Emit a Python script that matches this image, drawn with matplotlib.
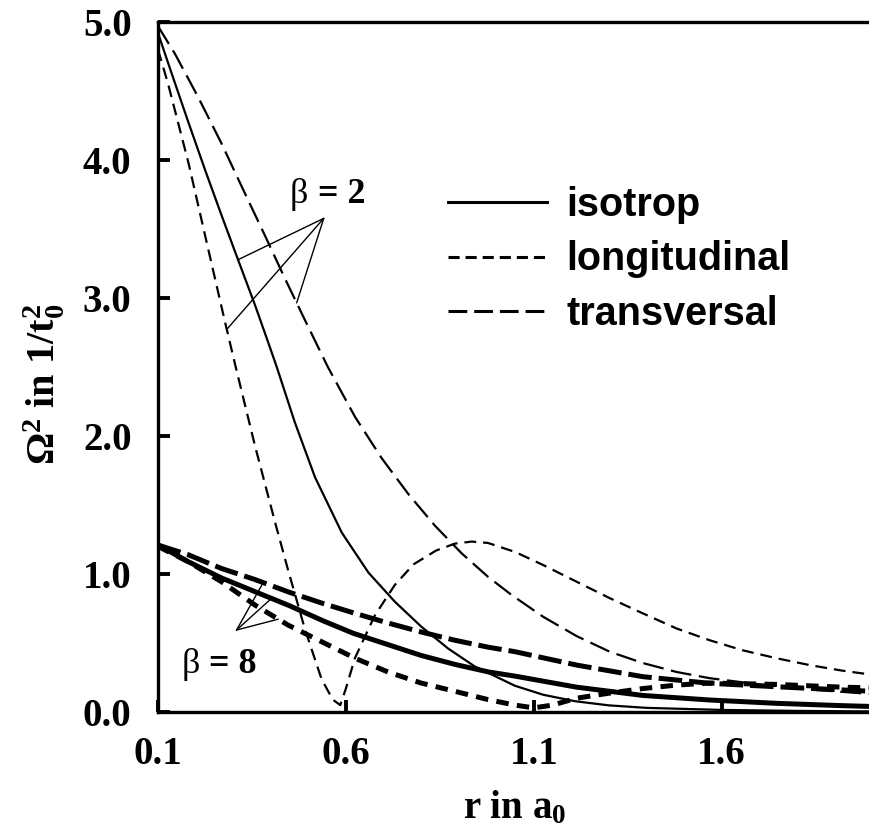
import numpy as np
import matplotlib
matplotlib.use('Agg')
import matplotlib.pyplot as plt
from matplotlib.lines import Line2D

plt.rcParams['lines.scale_dashes'] = False
plt.rcParams['mathtext.fontset'] = 'custom'
plt.rcParams['mathtext.rm'] = 'Liberation Serif:bold'
plt.rcParams['mathtext.bf'] = 'Liberation Serif:bold'
plt.rcParams['mathtext.it'] = 'Liberation Serif:bold'
plt.rcParams['mathtext.default'] = 'bf'

# beta = 2 (duenne Linien)
x_iso2 = [0.1, 0.136, 0.18, 0.225, 0.269, 0.314, 0.358, 0.393, 0.416, 0.464, 0.518, 0.589,
          0.66, 0.73, 0.80, 0.872, 0.943, 1.05, 1.125, 1.21, 1.3, 1.4, 1.6, 1.8, 2.0]
y_iso2 = [4.92, 4.63, 4.28, 3.93, 3.60, 3.27, 2.95, 2.68, 2.50, 2.10, 1.70, 1.30,
          1.01, 0.80, 0.62, 0.46, 0.33, 0.19, 0.125, 0.078, 0.048, 0.03, 0.015, 0.008, 0.004]

x_lon2 = [0.1, 0.127, 0.181, 0.234, 0.278, 0.305, 0.358, 0.411, 0.446, 0.491, 0.535, 0.565,
          0.585, 0.60, 0.624, 0.677, 0.73, 0.78, 0.84, 0.89, 0.935, 0.978, 1.05, 1.125, 1.214,
          1.302, 1.39, 1.48, 1.568, 1.656, 1.745, 1.834, 1.92, 2.0]
y_lon2 = [4.80, 4.55, 3.98, 3.35, 2.83, 2.52, 1.93, 1.38, 1.03, 0.60, 0.24, 0.09,
          0.05, 0.17, 0.39, 0.70, 0.92, 1.07, 1.17, 1.22, 1.235, 1.225, 1.16, 1.065, 0.944,
          0.825, 0.715, 0.605, 0.52, 0.447, 0.39, 0.34, 0.30, 0.27]

x_tra2 = [0.1, 0.145, 0.206, 0.269, 0.331, 0.385, 0.438, 0.491, 0.552, 0.624, 0.695, 0.766,
          0.837, 0.908, 0.978, 1.04, 1.125, 1.214, 1.302, 1.39, 1.48, 1.568, 1.7, 1.85, 2.0]
y_tra2 = [4.97, 4.77, 4.46, 4.12, 3.76, 3.45, 3.14, 2.84, 2.50, 2.14, 1.84, 1.58,
          1.35, 1.15, 0.98, 0.85, 0.69, 0.55, 0.437, 0.355, 0.29, 0.245, 0.20, 0.16, 0.13]

# beta = 8 (dicke Linien)
x_iso8 = [0.1, 0.18, 0.27, 0.36, 0.45, 0.54, 0.62, 0.71, 0.80, 0.89, 0.98, 1.05,
          1.214, 1.39, 1.568, 1.745, 1.92, 2.0]
y_iso8 = [1.21, 1.09, 0.97, 0.87, 0.77, 0.66, 0.57, 0.49, 0.41, 0.345, 0.29, 0.26,
          0.18, 0.12, 0.087, 0.063, 0.046, 0.04]

x_tra8 = [0.1, 0.18, 0.269, 0.358, 0.447, 0.535, 0.624, 0.712, 0.80, 0.89, 0.978, 1.05,
          1.214, 1.39, 1.568, 1.745, 1.92, 2.0]
y_tra8 = [1.21, 1.14, 1.04, 0.96, 0.87, 0.79, 0.715, 0.645, 0.58, 0.52, 0.47, 0.437,
          0.34, 0.256, 0.208, 0.183, 0.16, 0.15]

x_lon8 = [0.1, 0.18, 0.269, 0.358, 0.446, 0.535, 0.624, 0.712, 0.80, 0.89, 0.978, 1.05,
          1.10, 1.15, 1.214, 1.302, 1.39, 1.48, 1.568, 1.745, 1.92, 2.0]
y_lon8 = [1.20, 1.09, 0.944, 0.775, 0.63, 0.51, 0.39, 0.29, 0.21, 0.15, 0.09, 0.05,
          0.03, 0.05, 0.10, 0.137, 0.17, 0.195, 0.21, 0.20, 0.18, 0.175]

xticks = [0.1, 0.6, 1.1, 1.6]
yticks = [0.0, 1.0, 2.0, 3.0, 4.0, 5.0]

# Strichmuster (in Punkt)
d_lon_thin = (0, (8.5, 5))
d_tra_thin = (0, (15, 5.5))
d_lon_thick = (0, (9, 6))
d_tra_thick = (0, (17, 5))

fig = plt.figure(figsize=(8.7, 8.32), dpi=100)
ax = fig.add_axes([158/870, 120/832, 714/870, 690/832])

lw1, lw2 = 1.6, 3.6
ax.plot(x_iso2, y_iso2, 'k-', lw=lw1)
ax.plot(x_lon2, y_lon2, 'k', lw=lw1, linestyle=d_lon_thin)
ax.plot(x_tra2, y_tra2, 'k', lw=lw1, linestyle=d_tra_thin)
ax.plot(x_iso8, y_iso8, 'k-', lw=lw2)
ax.plot(x_lon8, y_lon8, 'k', lw=lw2, linestyle=d_lon_thick)
ax.plot(x_tra8, y_tra8, 'k', lw=lw2, linestyle=d_tra_thick)

ax.set_xlim(0.1, 2.0)
ax.set_ylim(0.0, 5.0)
ax.set_xticks(xticks)
ax.set_xticklabels([f'{v:.1f}' for v in xticks])
ax.set_yticks(yticks)
ax.set_yticklabels([f'{v:.1f}' for v in yticks])

for s in ax.spines.values():
    s.set_linewidth(2.4)
ax.tick_params(direction='in', length=8.5, width=2.8, labelsize=28)
ax.tick_params(axis='y', pad=19)
ax.tick_params(axis='x', pad=17)
for lab in ax.get_xticklabels() + ax.get_yticklabels():
    lab.set_fontfamily('Liberation Serif')
    lab.set_fontweight('bold')

ax.set_xlabel(r'r in a$_0$', fontsize=28, family='Liberation Serif', fontweight='bold')
ax.set_ylabel(r'$\Omega^2$ in 1/t$_0^2$', fontsize=29, family='Liberation Serif', fontweight='bold')
ax.xaxis.set_label_coords(0.5, -0.113)
ax.yaxis.set_label_coords(-0.127, 0.475)

# Beschriftung beta = 2
ann = dict(arrowstyle='-', lw=1.0, color='k', shrinkA=0, shrinkB=0)
o2 = (0.541, 3.577)
for xc, yc, xt in [(x_iso2, y_iso2, 0.313), (x_lon2, y_lon2, 0.283), (x_tra2, y_tra2, 0.469)]:
    ax.annotate('', xy=(xt, np.interp(xt, xc, yc)), xytext=o2, arrowprops=ann)
ax.text(0.451, 3.69, 'β', fontsize=26, family='Liberation Serif', va='baseline')
ax.annotate('= 2', xy=(0.451, 3.69), xytext=(20, 0), textcoords='offset points',
            fontsize=26, family='Liberation Serif', fontweight='bold', va='baseline')

# Beschriftung beta = 8
o8 = (0.309, 0.594)
for xc, yc, xt in [(x_tra8, y_tra8, 0.38), (x_iso8, y_iso8, 0.402), (x_lon8, y_lon8, 0.42)]:
    ax.annotate('', xy=(xt, np.interp(xt, xc, yc)), xytext=o8, arrowprops=ann)
ax.text(0.163, 0.28, 'β', fontsize=26, family='Liberation Serif', va='baseline')
ax.annotate('= 8', xy=(0.163, 0.28), xytext=(20, 0), textcoords='offset points',
            fontsize=26, family='Liberation Serif', fontweight='bold', va='baseline')

handles = [Line2D([], [], color='k', lw=2.2),
           Line2D([], [], color='k', lw=2.2, linestyle=(0, (8, 4.3))),
           Line2D([], [], color='k', lw=2.2, linestyle=(0, (13.5, 5)))]
ax.legend(handles, ['isotrop', 'longitudinal', 'transversal'], loc='upper left',
          bbox_to_anchor=(0.406, 0.762), frameon=False, borderpad=0, borderaxespad=0,
          handlelength=2.5, handletextpad=0.5, labelspacing=0.41,
          prop={'family': 'Liberation Sans', 'weight': 'bold', 'size': 28.5})

fig.savefig('out.png', dpi=100)
